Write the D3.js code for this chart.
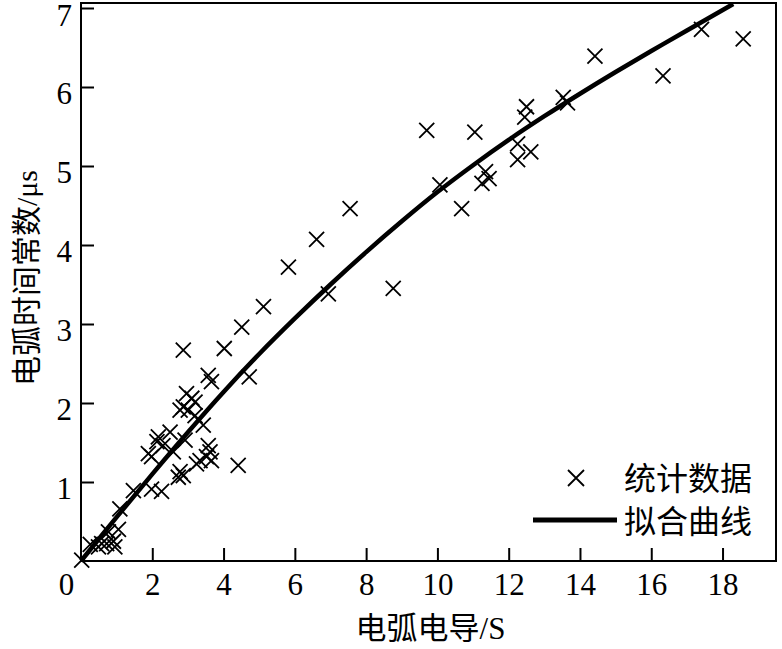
<!DOCTYPE html>
<html>
<head>
<meta charset="utf-8"/>
<script src="https://d3js.org/d3.v7.min.js"></script>
<style>
  body { margin: 0; background: #fff; }
  .tick-label { font-family: "Liberation Serif", "Times New Roman", serif; font-size: 31px; }
  .cjk { font-family: "Noto Sans CJK SC", sans-serif; }
  .latin { font-family: "Liberation Serif", "Times New Roman", serif; }
</style>
</head>
<body>
<div id="chart"></div>
<script>
// scatter data: conductance (S) and time constant (us)
var dataG = [17.41, 18.58, 14.42, 16.33, 12.50, 12.45, 13.53, 13.65, 12.25, 12.62, 12.25,
             9.70, 11.05, 10.07, 10.68, 11.35, 11.25, 11.45, 7.55, 6.61, 5.82, 6.94, 8.76,
             5.12, 4.51, 4.02, 2.87, 4.72, 3.57, 3.66, 2.96, 3.11, 2.87, 3.01, 3.20, 2.78,
             3.20, 3.43, 2.50, 2.17, 2.92, 2.59, 1.89, 1.98, 3.57, 3.62, 3.52, 3.66, 3.34,
             3.24, 2.78, 2.87, 2.73, 4.41, 1.47, 1.98, 2.26, 1.09, 1.05, 0.91, 0.72, 0.49,
             0.26, 0.77, 0.58, 0.95, 0.02, 2.30, 2.13];
var dataTau = [6.73, 6.61, 6.39, 6.14, 5.75, 5.62, 5.87, 5.80, 5.28, 5.18, 5.08,
               5.45, 5.43, 4.76, 4.46, 4.93, 4.78, 4.84, 4.46, 4.07, 3.72, 3.38, 3.45,
               3.22, 2.96, 2.69, 2.67, 2.33, 2.35, 2.27, 2.12, 2.06, 1.95, 1.91, 2.01, 1.91,
               1.84, 1.72, 1.63, 1.57, 1.53, 1.38, 1.36, 1.32, 1.46, 1.38, 1.32, 1.27, 1.27,
               1.23, 1.13, 1.08, 1.06, 1.21, 0.89, 0.91, 0.88, 0.66, 0.40, 0.25, 0.22, 0.18,
               0.21, 0.37, 0.22, 0.18, 0.01, 1.46, 1.51];

// fitted curve, points
var fitG   = [0, 1, 2, 3, 4, 5, 6, 7, 8, 9, 10, 11, 12, 13, 14, 15, 16, 17, 18.3];
var fitTau = [0, 0.555, 1.10, 1.63, 2.14, 2.62, 3.07, 3.50, 3.91, 4.30, 4.67, 5.01, 5.33, 5.63, 5.915, 6.19, 6.455, 6.715, 7.05];

var xTicks = [0, 2, 4, 6, 8, 10, 12, 14, 16, 18];
var yTicks = [1, 2, 3, 4, 5, 6, 7];

function drawChart() {
  var width = 782, height = 649;
  var plotL = 81, plotR = 776, plotT = 3, plotB = 561;

  var svg = d3.select("#chart").append("svg")
      .attr("width", width)
      .attr("height", height);

  svg.append("rect").attr("width", width).attr("height", height).attr("fill", "#fff");

  var x = d3.scaleLinear().domain([0, 19.5]).range([plotL, plotR]);
  var y = d3.scaleLinear().domain([0, (plotB - plotT) / 79]).range([plotB, plotT]);

  // x axis, ticks pointing inward
  var xAxis = svg.append("g")
      .attr("transform", "translate(0," + plotB + ")")
      .call(d3.axisBottom(x).tickValues(xTicks).tickSize(-13).tickPadding(0).tickFormat(d3.format("d")));
  xAxis.select(".domain").remove();
  xAxis.selectAll(".tick line").attr("stroke", "#000").attr("stroke-width", 2)
      .attr("display", function(d){ return d === 0 ? "none" : null; });
  xAxis.selectAll(".tick text")
      .attr("class", "tick-label")
      .attr("fill", "#000")
      .attr("y", 0)
      .attr("dy", "34px")
      .attr("dx", function(d){ return d === 0 ? -15 : 0; });

  var yAxis = svg.append("g")
      .attr("transform", "translate(" + plotL + ",0)")
      .call(d3.axisLeft(y).tickValues(yTicks).tickSize(-13).tickPadding(0).tickFormat(d3.format("d")));
  yAxis.select(".domain").remove();
  yAxis.selectAll(".tick line").attr("stroke", "#000").attr("stroke-width", 2);
  yAxis.selectAll(".tick text")
      .attr("class", "tick-label")
      .attr("fill", "#000")
      .attr("x", -9)
      .attr("dy", function(d){ return d === 7 ? "17px" : "16px"; });

  // frame
  svg.append("rect")
      .attr("x", plotL).attr("y", plotT)
      .attr("width", plotR - plotL).attr("height", plotB - plotT)
      .attr("fill", "none").attr("stroke", "#000").attr("stroke-width", 2);

  // scatter crosses
  var s = 7.5;
  function cross(cx, cy, r) {
    return "M" + (cx - r) + "," + (cy - r) + "L" + (cx + r) + "," + (cy + r) +
           "M" + (cx - r) + "," + (cy + r) + "L" + (cx + r) + "," + (cy - r);
  }
  svg.append("g").selectAll("path")
      .data(dataG.map(function(g, i){ return [g, dataTau[i]]; }))
      .enter().append("path")
      .attr("d", function(d){ return cross(x(d[0]), y(d[1]), s); })
      .attr("stroke", "#000")
      .attr("stroke-width", 1.8)
      .attr("fill", "none");

  // fitted curve
  var line = d3.line()
      .x(function(d){ return x(d[0]); })
      .y(function(d){ return y(d[1]); })
      .curve(d3.curveCatmullRom);
  svg.append("path")
      .datum(fitG.map(function(g, i){ return [g, fitTau[i]]; }))
      .attr("d", line)
      .attr("fill", "none")
      .attr("stroke", "#000")
      .attr("stroke-width", 4.5);

  // axis titles
  var xt = svg.append("text")
      .attr("x", (plotL + plotR) / 2 + 2)
      .attr("y", 639)
      .attr("text-anchor", "middle")
      .style("font-size", "31px")
      .attr("fill", "#000");
  xt.append("tspan").attr("class", "cjk").text("电弧电导");
  xt.append("tspan").attr("class", "latin").text("/S");

  var yt = svg.append("text")
      .attr("transform", "translate(37," + ((plotT + plotB) / 2 - 4) + ") rotate(-90)")
      .attr("text-anchor", "middle")
      .style("font-size", "30px")
      .attr("fill", "#000");
  yt.append("tspan").attr("class", "cjk").text("电弧时间常数");
  yt.append("tspan").attr("class", "latin").text("/μs");

  // legend
  var lg = svg.append("g");
  lg.append("path")
      .attr("d", cross(576, 478, 8))
      .attr("stroke", "#000").attr("stroke-width", 1.8);
  lg.append("text")
      .attr("class", "cjk")
      .attr("x", 624).attr("y", 490)
      .style("font-size", "32px")
      .text("统计数据");
  lg.append("line")
      .attr("x1", 533).attr("x2", 617)
      .attr("y1", 520).attr("y2", 520)
      .attr("stroke", "#000").attr("stroke-width", 5);
  lg.append("text")
      .attr("class", "cjk")
      .attr("x", 624).attr("y", 533)
      .style("font-size", "32px")
      .text("拟合曲线");
}
drawChart();
</script>
</body>
</html>
